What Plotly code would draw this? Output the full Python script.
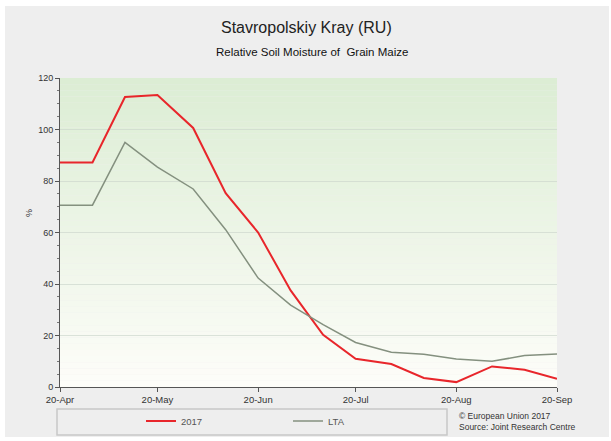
import plotly.graph_objects as go

dates = ["2017-04-20", "2017-04-30", "2017-05-10", "2017-05-20", "2017-05-31",
         "2017-06-10", "2017-06-20", "2017-06-30", "2017-07-10", "2017-07-20",
         "2017-07-31", "2017-08-10", "2017-08-20", "2017-08-31", "2017-09-10",
         "2017-09-20"]
y2017 = [87.2, 87.2, 112.6, 113.4, 100.6, 75.3, 60.0, 37.5, 20.3, 11.0,
         8.9, 3.5, 1.9, 8.0, 6.7, 3.2]
ylta = [70.6, 70.6, 95.0, 85.4, 76.9, 61.1, 42.3, 31.8, 24.2, 17.3,
        13.5, 12.7, 10.9, 10.0, 12.2, 12.8]
tick_vals = ["2017-04-20", "2017-05-20", "2017-06-20", "2017-07-20",
             "2017-08-20", "2017-09-20"]
tick_text = ["20-Apr", "20-May", "20-Jun", "20-Jul", "20-Aug", "20-Sep"]

FONT = "Arial, Liberation Sans, sans-serif"
W, H = 611, 441
L, R, T, B = 60, 54, 78, 54
PW, PH = W - L - R, H - T - B


def px(xp):
    return (xp - L) / PW


def py(yp):
    return (H - B - yp) / PH


fig = go.Figure()
fig.add_trace(go.Scatter(x=dates, y=y2017, mode="lines", name="2017",
                         line=dict(color="#e8262b", width=2)))
fig.add_trace(go.Scatter(x=dates, y=ylta, mode="lines", name="LTA",
                         line=dict(color="#84907f", width=1.5)))

shapes = []
# grey panel
shapes.append(dict(type="rect", xref="paper", yref="paper",
                   x0=px(5), x1=px(609), y0=py(437), y1=py(6),
                   fillcolor="#eeeeee", line=dict(width=0), layer="below"))
# gradient plot background
n = 50
top = (220, 237, 212)
bot = (253, 253, 249)
for i in range(n):
    f = i / (n - 1)
    c = tuple(int(round(bot[k] + (top[k] - bot[k]) * f)) for k in range(3))
    shapes.append(dict(type="rect", xref="x domain", yref="y domain",
                       x0=0, x1=1, y0=i / n, y1=(i + 1) / n,
                       fillcolor="rgb(%d,%d,%d)" % c, line=dict(width=0),
                       layer="below"))
# legend box
shapes.append(dict(type="rect", xref="paper", yref="paper",
                   x0=px(57), x1=px(447), y0=py(435), y1=py(409),
                   fillcolor="rgba(0,0,0,0)", line=dict(color="#c8c8c8", width=1.5),
                   layer="below"))

annotations = [
    dict(text="Stavropolskiy Kray (RU)", xref="paper", yref="paper",
         x=px(306), y=py(27), showarrow=False, xanchor="center", yanchor="middle",
         font=dict(size=16, color="#222222", family=FONT)),
    dict(text="Relative Soil Moisture of  Grain Maize", xref="paper", yref="paper",
         x=px(312), y=py(52), showarrow=False, xanchor="center", yanchor="middle",
         font=dict(size=11.5, color="#111111", family=FONT)),
    dict(text="%", xref="paper", yref="paper", x=px(29), y=py(213),
         showarrow=False, textangle=-90, xanchor="center", yanchor="middle",
         font=dict(size=9, color="#333333", family=FONT)),
    dict(text="© European Union 2017<br>Source: Joint Research Centre",
         xref="paper", yref="paper", x=px(457), y=py(421), showarrow=False,
         xanchor="left", yanchor="middle", align="left",
         font=dict(size=8.5, color="#333333", family=FONT)),
]

fig.update_layout(
    width=W, height=H,
    margin=dict(l=L, r=R, t=T, b=B, pad=0, autoexpand=False),
    paper_bgcolor="white", plot_bgcolor="white",
    font=dict(family=FONT, size=9, color="#333333"),
    shapes=shapes, annotations=annotations,
    showlegend=True,
    legend=dict(orientation="h", x=px(141), y=py(421), xanchor="left",
                yanchor="middle", bgcolor="rgba(0,0,0,0)",
                entrywidth=102, entrywidthmode="pixels",
                font=dict(size=9.5, color="#555555", family=FONT)),
)
fig.update_xaxes(type="date", range=["2017-04-20", "2017-09-20"],
                 tickvals=tick_vals, ticktext=tick_text, automargin=False,
                 showgrid=False, showline=True, linecolor="#555555", linewidth=1,
                 ticks="outside", ticklen=4, tickcolor="#555555",
                 tickfont=dict(size=9.5, color="#333333"), zeroline=False)
fig.update_yaxes(range=[0, 120], dtick=20, showline=True, linecolor="#555555",
                 linewidth=1, ticks="outside", ticklen=4, tickcolor="#555555",
                 automargin=False,
                 minor=dict(dtick=5, ticks="outside", ticklen=2, tickcolor="#777777",
                            showgrid=False),
                 gridcolor="rgba(205,215,205,0.7)", gridwidth=1, zeroline=False,
                 tickfont=dict(size=9, color="#333333"))

fig.write_html("out.html", config={"displayModeBar": False},
               post_script="document.body.style.margin='0';document.body.style.overflow='hidden';")
